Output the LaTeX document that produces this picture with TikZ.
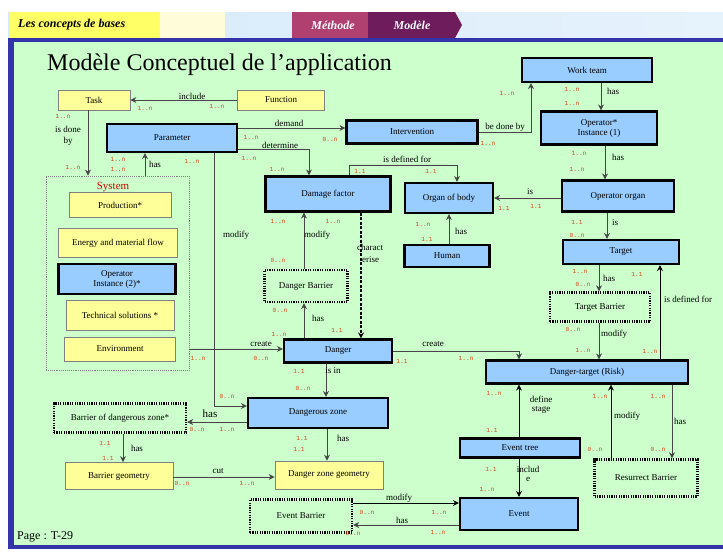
\documentclass[tikz,border=0pt]{standalone}
\usepackage{fontspec}
\setmainfont{Liberation Serif}
\setmonofont{Liberation Mono}
\usepackage{tikz}
\usetikzlibrary{arrows.meta, positioning, calc}
\definecolor{bgGreen}{RGB}{204,255,204}
\definecolor{boxBlue}{RGB}{153,204,255}
\definecolor{boxYellow}{RGB}{255,255,153}
\definecolor{cardRed}{RGB}{210,70,20}
\definecolor{frameBlue}{RGB}{51,51,170}
\definecolor{lineGray}{RGB}{70,70,70}
\definecolor{tabRose}{RGB}{176,64,112}
\definecolor{tabPlum}{RGB}{110,28,92}
\definecolor{headYellow}{RGB}{255,255,102}
\definecolor{headBlue}{RGB}{214,234,250}
\tikzset{
    entity/.style 2 args={rectangle, draw=black, line width=2.1pt, fill=boxBlue,
                 align=center, minimum width=#1pt, minimum height=#2pt, inner sep=1pt,
                 font=\fontsize{9}{10}\selectfont},
    thing/.style 2 args={rectangle, draw=gray, line width=0.7pt, fill=boxYellow,
                 align=center, minimum width=#1pt, minimum height=#2pt, inner sep=1pt,
                 font=\fontsize{9}{10}\selectfont},
    barrier/.style 2 args={rectangle, draw=black, line width=2.4pt, dash pattern=on 1.2pt off 1.2pt,
                 fill=bgGreen, align=center, minimum width=#1pt, minimum height=#2pt,
                 inner sep=1pt, font=\fontsize{9}{10}\selectfont},
    flow/.style={-{Stealth[length=6pt, width=6pt]}, line width=0.8pt, draw=lineGray},
    dflow/.style={-{Stealth[length=6pt, width=6pt]}, line width=1.4pt, draw=black,
                 dash pattern=on 3pt off 1.5pt},
    card/.style={font=\ttfamily\fontsize{6.2}{7}\selectfont, text=cardRed, inner sep=0pt},
    rel/.style={font=\fontsize{9}{10}\selectfont, inner sep=0pt},
    head/.style={font=\bfseries\itshape\fontsize{12}{14}\selectfont, inner sep=0pt}
}
\begin{document}
\begin{tikzpicture}[x=1pt, y=-1pt]
    \useasboundingbox (0,0) rectangle (723,552);
    % slide frame
    \fill[white] (0,0) rectangle (723,552);
    \shade[left color=headBlue, right color=headBlue!60] (8,12) rectangle (723,38);
    \fill[headYellow] (10,12) rectangle (160,38);
    \fill[yellow!15] (160,12) rectangle (225,38);
    \fill[tabRose] (292,12) rectangle (368,38);
    \fill[tabPlum] (368,12) -- (455,12) -- (462,25) -- (455,38) -- (368,38) -- cycle;
    \node[head, anchor=west] (hconc) at (18,25) {Les concepts de bases};
    \node[head, text=white] (hmeth) at (333,25) {Méthode};
    \node[head, text=white] (hmod) at (412,25) {Modèle};
    \fill[frameBlue] (8,38) rectangle (723,42);
    \fill[frameBlue] (8,38) rectangle (14,549);
    \fill[bgGreen] (14,42) rectangle (723,545);
    \fill[frameBlue] (8,545) rectangle (723,549);
    \node[anchor=west, font=\fontsize{24}{26}\selectfont, inner sep=0pt] (title) at (47,65) {Modèle Conceptuel de l'application};
    \node[anchor=west, font=\fontsize{12}{14}\selectfont, inner sep=0pt] (page) at (17,537) {Page : T-29};

    % system group
    \node[draw=gray, densely dotted, line width=0.9pt, minimum width=143pt, minimum height=194pt] (system) at (117.5,273) {};
    \node[font=\fontsize{11}{12}\selectfont, text=red!80!black, inner sep=0pt] (systitle) at (113,187) {System};
    \node[thing={102}{25}] (prod) at (120,205) {Production*};
    \node[thing={119}{29}] (energy) at (118,243) {Energy and material flow};
    \node[entity={117}{30}] (optwo) at (117,279) {Operator\\Instance (2)*};
    \node[thing={108}{30}] (tech) at (120,315) {Technical solutions *};
    \node[thing={111}{24}] (env) at (120,349) {Environment};

    % entities
    \node[thing={72}{20}] (task) at (94,100) {Task};
    \node[thing={87}{20}] (func) at (281,100) {Function};
    \node[entity={130}{28}] (param) at (172,138) {Parameter};
    \node[entity={131}{23}] (interv) at (412,132) {Intervention};
    \node[entity={130}{24}] (wteam) at (587,70) {Work team};
    \node[entity={116}{33}] (opone) at (599,128) {Operator*\\Instance (1)};
    \node[entity={112}{31}] (oporg) at (618,196) {Operator organ};
    \node[entity={88}{30}] (body) at (449,198) {Organ of body};
    \node[entity={85}{22}] (human) at (447,256) {Human};
    \node[entity={125}{35}] (dmg) at (328,194) {Damage factor};
    \node[entity={116}{24}] (target) at (621,252) {Target};
    \node[barrier={100}{29}] (tbar) at (600,307) {Target Barrier};
    \node[barrier={83}{32}] (dbar) at (306,286) {Danger Barrier};
    \node[entity={108}{23}] (danger) at (338,351) {Danger};
    \node[entity={202}{23}] (risk) at (587,372) {Danger-target (Risk)};
    \node[entity={140}{30}] (dz) at (318,413) {Dangerous zone};
    \node[barrier={132}{29}] (bdz) at (120,418) {Barrier of dangerous zone*};
    \node[thing={108}{27}] (bgeom) at (119,476) {Barrier geometry};
    \node[thing={108}{28}] (dzgeom) at (329,475) {Danger zone geometry};
    \node[entity={120}{19}] (etree) at (520,448) {Event tree};
    \node[entity={118}{32}] (event) at (519,514) {Event};
    \node[barrier={103}{37}] (rbar) at (646,478) {Resurrect Barrier};
    \node[barrier={102}{33}] (ebar) at (301,516) {Event Barrier};

    % relations
    \draw[flow] (func.west) -- (task.east);
    \draw[flow] (task.south -| 88,0) -- (system.north -| 88,0);
    \draw[flow] (system.north -| 145,0) -- (param.south -| 145,0);
    \draw[flow] (param.east |- 0,128) -- (interv.west |- 0,128);
    \draw[flow] (param.east |- 0,149) -| (dmg.north -| 309,0);
    \draw[flow] (param.south -| 214,0) |- (dz.west |- 0,406);
    \draw[flow] (interv.east) -| (wteam.south -| 531,0);
    \draw[flow] (wteam.south -| 601,0) -- (opone.north -| 601,0);
    \draw[flow] (opone.south -| 605,0) -- (oporg.north -| 605,0);
    \draw[flow] (oporg.west |- 0,198) -- (body.east |- 0,198);
    \draw[flow] (human.north -| 449,0) -- (body.south -| 449,0);
    \draw[flow] (dmg.north -| 349,0) |- (457,165) -- (body.north -| 457,0);
    \draw[flow] (oporg.south -| 607,0) -- (target.north -| 607,0);
    \draw[flow] (dbar.north -| 304,0) -- (dmg.south -| 304,0);
    \draw[dflow] (dmg.south -| 361,0) -- (danger.north -| 361,0);
    \draw[flow] (danger.north -| 304,0) -- (dbar.south -| 304,0);
    \draw[flow] (system.east |- 0,349) -- (danger.west |- 0,349);
    \draw[flow] (danger.east) -| (risk.north -| 519,0);
    \draw[flow] (danger.south -| 326,0) -- (dz.north -| 326,0);
    \draw[flow] (dz.west |- 0,422) -- (bdz.east |- 0,422);
    \draw[flow] (bdz.south -| 123,0) -- (bgeom.north -| 123,0);
    \draw[flow] (dz.south -| 327,0) -- (dzgeom.north -| 327,0);
    \draw[flow] (bgeom.east |- 0,477) -- (dzgeom.west |- 0,477);
    \draw[flow, draw=black] (etree.north -| 519,0) -- (risk.south -| 519,0);
    \draw[flow, draw=black] (etree.south -| 519,0) -- (event.north -| 519,0);
    \draw[flow, draw=black] (rbar.north -| 611,0) -- (risk.south -| 611,0);
    \draw[flow] (risk.south -| 672,0) -- (rbar.north -| 672,0);
    \draw[flow, draw=black] (risk.north -| 660,0) -- (target.south -| 660,0);
    \draw[flow] (target.south -| 599,0) -- (tbar.north -| 599,0);
    \draw[flow] (tbar.south -| 599,0) -- (risk.north -| 599,0);
    \draw[flow, draw=black] (ebar.east |- 0,503) -- (event.west |- 0,503);
    \draw[flow] (event.west |- 0,525) -- (ebar.east |- 0,525);

    % relation names
    \foreach \x/\y/\t [count=\i] in {192/96/include, 68/129/is done, 68/141/by, 155/164/has,
        236/235/modify, 289/123/demand, 280/145/determine, 505/127/be done by, 613/91/has,
        618/157/has, 530/192/is, 615/223/is, 461/231/has, 407/159/is defined for,
        317/235/modify, 318/318/has, 261/344/create, 433/344/create, 333/371/is in,
        137/448/has, 343/438/has, 218/471/cut, 541/399/define, 541/410/stage,
        528/469/includ, 528/479/e, 627/416/modify, 680/421/has, 609/278/has,
        688/299/is defined for, 614/334/modify, 399/498/modify, 402/520/has}
        \node[rel] (r\i) at (\x,\y) {\t};
    \node[rel, anchor=west] (rchar) at (357,247) {charact};
    \node[rel, anchor=west] (rerise) at (362,260) {erise};
    \node[rel, font=\fontsize{11}{12}\selectfont] (rhasdz) at (210,414) {has};

    % cardinalities
    \foreach \x/\y/\t [count=\i] in {145/108/1..n, 217/106/1..n, 63/116/1..n, 73/167/1..n,
        118/159/1..n, 118/169/1..n, 192/161/1..n, 251/137/1..n, 330/139/0..n, 249/158/1..n,
        277/169/1..n, 488/143/1..n, 507/93/1..n, 572/89/1..n, 572/103/1..n, 579/153/1..n,
        577/169/1..n, 504/208/1.1, 536/206/1.1, 577/222/1.1, 577/235/0..n, 423/224/1..n,
        427/239/1.1, 360/171/1.1, 431/171/1.1, 278/221/1..n, 333/221/1..n, 278/260/0..n,
        280/310/0..n, 279/334/1..n, 337/330/1.1, 198/358/1..n, 261/358/0..n, 402/361/1.1,
        466/358/1..n, 299/371/1.1, 303/388/0..n, 227/396/0..n, 197/429/0..n, 227/429/1..n,
        105/443/1.1, 108/458/1.1, 182/483/0..n, 247/483/1..n, 302/438/1.1, 299/449/1.1,
        367/512/0..n, 439/512/1..n, 353/533/0..n, 438/532/1..n, 494/393/1..n, 492/430/1.1,
        491/469/1.1, 487/489/1..n, 600/396/1..n, 595/449/0..n, 658/396/1..n, 658/449/0..n,
        580/271/1..n, 637/274/1.1, 583/284/0..n, 573/329/0..n, 583/350/1..n, 650/351/1..n}
        \node[card] (c\i) at (\x,\y) {\t};
\end{tikzpicture}
\end{document}
